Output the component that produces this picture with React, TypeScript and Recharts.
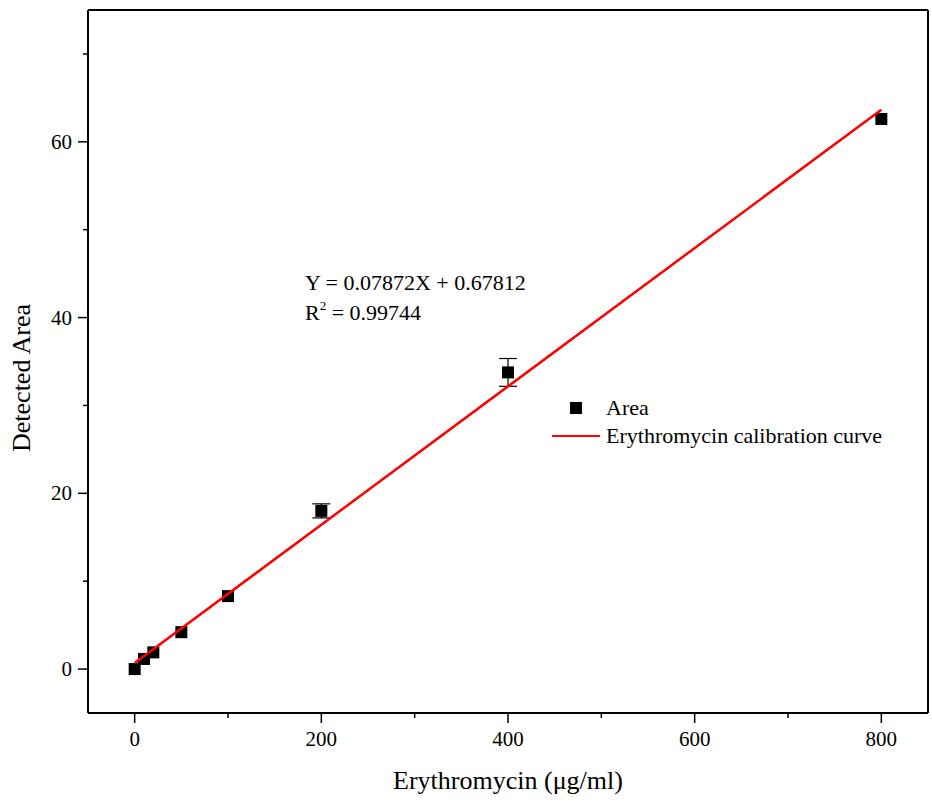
import { ScatterChart, Scatter, XAxis, YAxis, ErrorBar, ReferenceLine } from 'recharts'

const FONT = '"Liberation Serif", "Times New Roman", serif'

// measured concentrations (µg/ml) and detected peak areas
const concentrations = [0, 10, 20, 50, 100, 200, 400, 800]
const areas = [0, 1.15, 1.9, 4.2, 8.3, 18.0, 33.76, 62.6]
const areaErrors = [0, 0, 0, 0, 0, 0.8, 1.58, 0]

// calibration line end points
const fitX = [0, 800]
const fitY = [0.68, 63.65]

const xTicks = [0, 100, 200, 300, 400, 500, 600, 700, 800]
const yTicks = [0, 10, 20, 30, 40, 50, 60, 70]

const pointData = concentrations.map((x, i) => ({ x, y: areas[i], err: areaErrors[i] }))
const fitData = fitX.map((x, i) => ({ x, y: fitY[i] }))

const XTick = (props: any) => {
  const { x, y, payload } = props
  const major = payload.value % 200 === 0
  return (
    <g>
      <line x1={x} x2={x} y1={y} y2={y + (major ? 10 : 5)} stroke="#000" strokeWidth={1.5} />
      {major && (
        <text x={x} y={y + 33} textAnchor="middle" fontSize={21} fontFamily={FONT} fill="#000">
          {payload.value}
        </text>
      )}
    </g>
  )
}

const YTick = (props: any) => {
  const { x, y, payload } = props
  const major = payload.value % 20 === 0
  return (
    <g>
      <line x1={x} x2={x - (major ? 10 : 5)} y1={y} y2={y} stroke="#000" strokeWidth={1.5} />
      {major && (
        <text x={x - 16} y={y + 7} textAnchor="end" fontSize={21} fontFamily={FONT} fill="#000">
          {payload.value}
        </text>
      )}
    </g>
  )
}

const Square = (props: any) => {
  const { cx, cy } = props
  return <rect x={cx - 6} y={cy - 6} width={12} height={12} fill="#000" />
}

export default function App() {
  return (
    <div style={{ position: 'absolute', left: 0, top: 0, width: 932, height: 803, background: '#fff' }}>
      <ScatterChart width={932} height={803} margin={{ top: 10, right: 4, left: 28, bottom: 0 }}>
        <XAxis
          type="number"
          dataKey="x"
          domain={[-50, 850]}
          ticks={xTicks}
          allowDataOverflow
          tickSize={0}
          tickMargin={0}
          tick={<XTick />}
          axisLine={{ stroke: '#000', strokeWidth: 2 }}
          height={90}
        />
        <YAxis
          type="number"
          dataKey="y"
          domain={[-5, 75]}
          ticks={yTicks}
          allowDataOverflow
          tickSize={0}
          tickMargin={0}
          tick={<YTick />}
          axisLine={{ stroke: '#000', strokeWidth: 2 }}
          width={60}
        />
        <ReferenceLine y={75} stroke="#000" strokeWidth={2} />
        <ReferenceLine x={850} stroke="#000" strokeWidth={2} />
        <Scatter data={pointData} shape={<Square />} isAnimationActive={false}>
          <ErrorBar dataKey="err" direction="y" width={9} stroke="#000" strokeWidth={1.2} />
        </Scatter>
        <Scatter
          data={fitData}
          line={{ stroke: '#ff0000', strokeWidth: 2.5 }}
          shape={() => null}
          isAnimationActive={false}
          legendType="none"
        />
      </ScatterChart>
      <div
        style={{
          position: 'absolute',
          left: 552,
          top: 394,
          fontFamily: FONT,
          fontSize: 22,
          lineHeight: '28px',
          color: '#000',
          whiteSpace: 'nowrap',
        }}
      >
        <div style={{ display: 'flex', alignItems: 'center' }}>
          <span style={{ width: 48, display: 'flex', justifyContent: 'center' }}>
            <span style={{ width: 12, height: 12, background: '#000', display: 'inline-block' }} />
          </span>
          <span style={{ marginLeft: 6 }}>Area</span>
        </div>
        <div style={{ display: 'flex', alignItems: 'center' }}>
          <span style={{ width: 48, height: 2.5, background: '#ff0000', display: 'inline-block' }} />
          <span style={{ marginLeft: 6 }}>Erythromycin calibration curve</span>
        </div>
      </div>
      <div
        style={{
          position: 'absolute',
          left: 305,
          top: 268,
          fontFamily: FONT,
          fontSize: 22,
          lineHeight: '30px',
          color: '#000',
          whiteSpace: 'nowrap',
        }}
      >
        <div>Y = 0.07872X + 0.67812</div>
        <div>
          R<sup style={{ fontSize: 13, verticalAlign: 'top', lineHeight: '16px' }}>2</sup> = 0.99744
        </div>
      </div>
      <div
        style={{
          position: 'absolute',
          left: 88,
          width: 840,
          top: 766,
          textAlign: 'center',
          fontFamily: FONT,
          fontSize: 26,
          color: '#000',
        }}
      >
        Erythromycin (μg/ml)
      </div>
      <div
        style={{
          position: 'absolute',
          left: 22,
          top: 378,
          transform: 'translate(-50%, -50%) rotate(-90deg)',
          fontFamily: FONT,
          fontSize: 26,
          color: '#000',
          whiteSpace: 'nowrap',
        }}
      >
        Detected Area
      </div>
    </div>
  )
}
